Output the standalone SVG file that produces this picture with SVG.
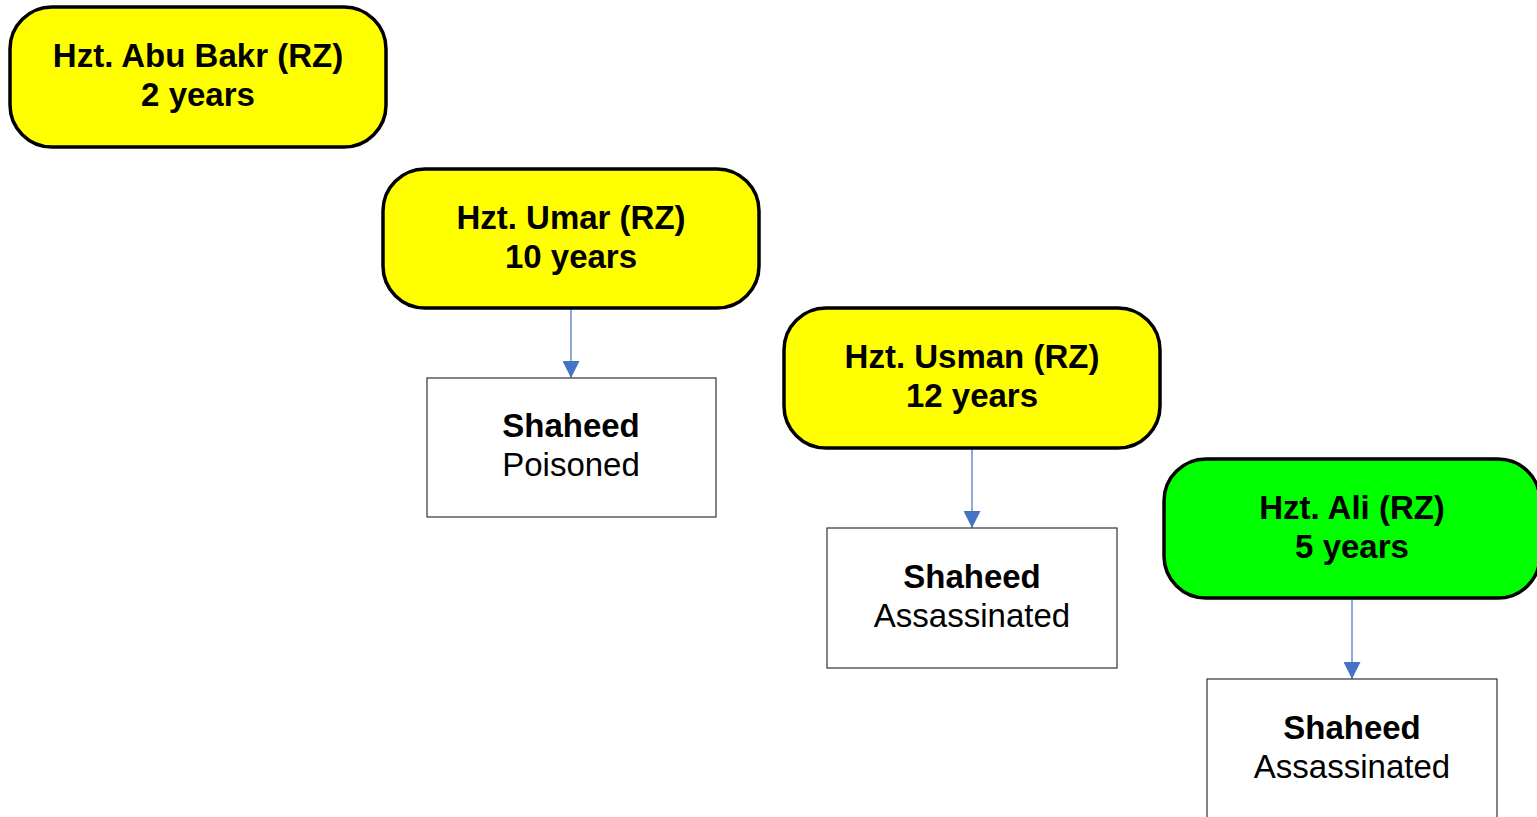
<svg xmlns="http://www.w3.org/2000/svg" width="1537" height="817" viewBox="0 0 1537 817">
<defs>
<style>
.rr{stroke:#000;stroke-width:3.5}
.y{fill:#FFFF00}
.g{fill:#00FF00}
.bx{fill:#fff;stroke:#333;stroke-width:1.2}
.t{font-family:"Liberation Sans",Arial,sans-serif;font-size:33px;text-anchor:middle;fill:#000}
.b{font-weight:bold}
.c{stroke:#4472C4;stroke-width:1.2;fill:none}
</style>
<marker id="ah" markerWidth="17" markerHeight="17" refX="17" refY="8.5" orient="auto" markerUnits="userSpaceOnUse">
<path d="M0,0 L17,8.5 L0,17 Z" fill="#4472C4"/>
</marker>
</defs>
<rect width="1537" height="817" fill="#fff"/>
<g id="connectors">
<line class="c" x1="571" y1="308" x2="571" y2="378" marker-end="url(#ah)"/>
<line class="c" x1="972" y1="448" x2="972" y2="528" marker-end="url(#ah)"/>
<line class="c" x1="1352" y1="598" x2="1352" y2="679" marker-end="url(#ah)"/>
</g>
<g id="abubakr">
<rect class="rr y" x="10" y="7" width="376" height="140" rx="42" ry="42"/>
<text class="t b" x="198" y="67">Hzt. Abu Bakr (RZ)</text>
<text class="t b" x="198" y="106">2 years</text>
</g>
<g id="umar">
<rect class="rr y" x="383" y="169" width="376" height="139" rx="42" ry="42"/>
<text class="t b" x="571" y="229">Hzt. Umar (RZ)</text>
<text class="t b" x="571" y="268">10 years</text>
</g>
<g id="umar-fate">
<rect class="bx" x="427" y="378" width="289" height="139"/>
<text class="t b" x="571" y="437">Shaheed</text>
<text class="t" x="571" y="476">Poisoned</text>
</g>
<g id="usman">
<rect class="rr y" x="784" y="308" width="376" height="140" rx="42" ry="42"/>
<text class="t b" x="972" y="368">Hzt. Usman (RZ)</text>
<text class="t b" x="972" y="407">12 years</text>
</g>
<g id="usman-fate">
<rect class="bx" x="827" y="528" width="290" height="140"/>
<text class="t b" x="972" y="588">Shaheed</text>
<text class="t" x="972" y="627">Assassinated</text>
</g>
<g id="ali">
<rect class="rr g" x="1164" y="459" width="376" height="139" rx="42" ry="42"/>
<text class="t b" x="1352" y="519">Hzt. Ali (RZ)</text>
<text class="t b" x="1352" y="558">5 years</text>
</g>
<g id="ali-fate">
<rect class="bx" x="1207" y="679" width="290" height="140"/>
<text class="t b" x="1352" y="739">Shaheed</text>
<text class="t" x="1352" y="778">Assassinated</text>
</g>
</svg>
